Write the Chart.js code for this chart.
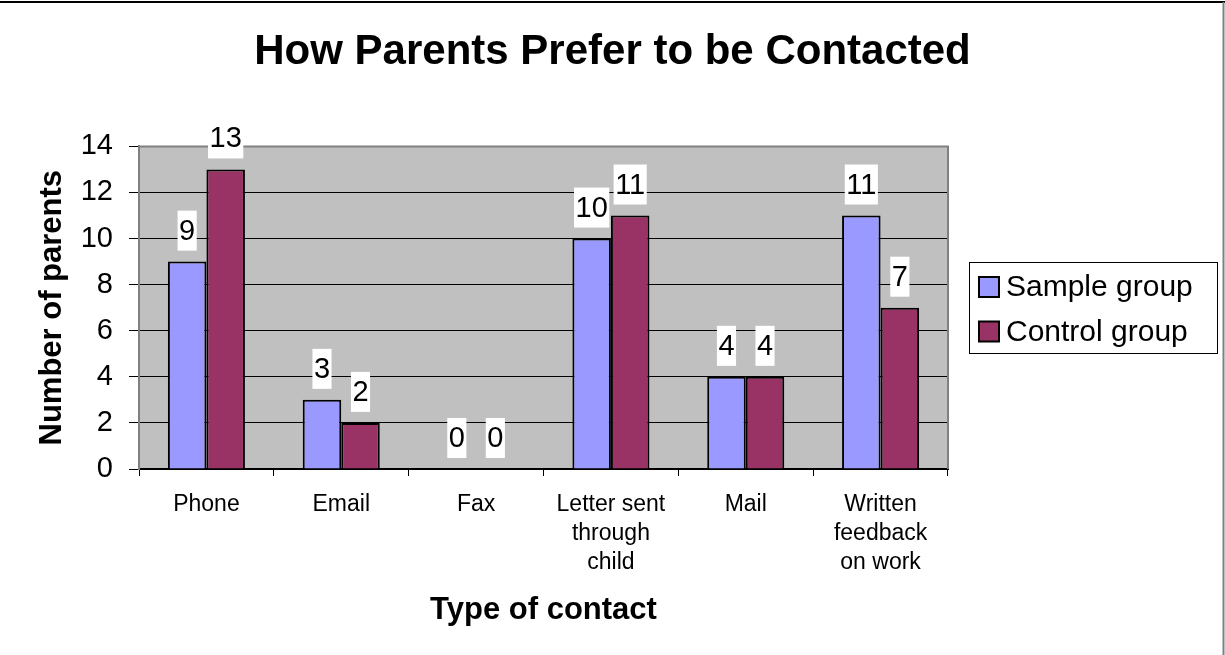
<!DOCTYPE html>
<html>
<head>
<meta charset="utf-8">
<title>How Parents Prefer to be Contacted</title>
<script src="https://cdn.jsdelivr.net/npm/chart.js@4.4.1/dist/chart.umd.min.js"></script>
<style>
  html, body { margin: 0; padding: 0; background: #fff; }
  canvas { display: block; }
</style>
</head>
<body>
<canvas id="contactChart" width="1225" height="655"></canvas>
<script>
// Survey results: preferred way of contact, per group
const contactTypes = ['Phone', 'Email', 'Fax', ['Letter sent', 'through', 'child'], 'Mail', ['Written', 'feedback', 'on work']];
const sampleGroup = [9, 3, 0, 10, 4, 11];
const controlGroup = [13, 2, 0, 11, 4, 7];
const yTicks = [0, 2, 4, 6, 8, 10, 12, 14];

const FONT = '"Liberation Sans", Arial, Helvetica, sans-serif';

// Grey plot area with its frame, plus the outer chart frame
const plotArea = {
    id: 'plotArea',
    beforeDraw(chart) {
        const { ctx, chartArea: a } = chart;
        ctx.save();
        ctx.fillStyle = '#c0c0c0';
        ctx.fillRect(a.left, a.top, a.right - a.left, a.bottom - a.top);
        ctx.restore();
    },
    beforeDatasetsDraw(chart) {
        const { ctx, chartArea: a } = chart;
        ctx.save();
        ctx.strokeStyle = '#808080';
        ctx.lineWidth = 2;
        ctx.beginPath();
        ctx.moveTo(a.left, a.top);
        ctx.lineTo(a.right, a.top);
        ctx.lineTo(a.right, a.bottom);
        ctx.stroke();
        ctx.restore();
    },
    afterDraw(chart) {
        const ctx = chart.ctx;
        ctx.save();
        ctx.strokeStyle = '#000';
        ctx.lineWidth = 2;
        ctx.beginPath();
        ctx.moveTo(0, 2);
        ctx.lineTo(chart.width, 2);
        ctx.stroke();
        ctx.strokeStyle = '#808080';
        ctx.beginPath();
        ctx.moveTo(chart.width - 1.5, 2);
        ctx.lineTo(chart.width - 1.5, chart.height);
        ctx.stroke();
        ctx.restore();
    }
};

// Value labels on white boxes above each bar
const barLabels = {
    id: 'barLabels',
    afterDatasetsDraw(chart) {
        const ctx = chart.ctx;
        ctx.save();
        ctx.font = '29px ' + FONT;
        ctx.textAlign = 'center';
        ctx.textBaseline = 'middle';
        chart.data.datasets.forEach((ds, i) => {
            chart.getDatasetMeta(i).data.forEach((bar, j) => {
                const text = String(ds.data[j]);
                const w = ctx.measureText(text).width + 3;
                const h = 40;
                const bottom = bar.y - 11;
                ctx.fillStyle = '#fff';
                ctx.fillRect(bar.x - w / 2, bottom - h, w, h);
                ctx.fillStyle = '#000';
                ctx.fillText(text, bar.x, bottom - h / 2 + 1);
            });
        });
        ctx.restore();
    }
};

// Framed legend to the right of the plot
const boxLegend = {
    id: 'boxLegend',
    afterDraw(chart) {
        const ctx = chart.ctx;
        ctx.save();
        ctx.lineWidth = 1;
        ctx.strokeStyle = '#000';
        ctx.strokeRect(969.5, 262.5, 248, 91);
        ctx.font = '30px ' + FONT;
        ctx.textBaseline = 'middle';
        chart.data.datasets.forEach((ds, i) => {
            const cy = 287 + i * 44.5;
            ctx.fillStyle = ds.backgroundColor;
            ctx.fillRect(979, cy - 10, 20, 20);
            ctx.lineWidth = 2;
            ctx.strokeRect(979, cy - 10, 20, 20);
            ctx.fillStyle = '#000';
            ctx.fillText(ds.label, 1006, cy + 1);
        });
        ctx.restore();
    }
};

new Chart(document.getElementById('contactChart'), {
    type: 'bar',
    data: {
        labels: contactTypes,
        datasets: [
            { label: 'Sample group', data: sampleGroup, backgroundColor: '#9999ff', borderColor: '#000', borderWidth: 2 },
            { label: 'Control group', data: controlGroup, backgroundColor: '#993366', borderColor: '#000', borderWidth: 2 }
        ]
    },
    options: {
        responsive: false,
        animation: false,
        // two bars side by side, gap of 1.5 bar widths between groups
        barPercentage: 1,
        categoryPercentage: 2 / 3.5,
        plugins: {
            legend: { display: false },
            tooltip: { enabled: false },
            title: {
                display: true,
                text: 'How Parents Prefer to be Contacted',
                color: '#000',
                font: { family: FONT, size: 42, weight: 'bold', lineHeight: 1.2 },
                padding: { top: 27, bottom: 69 }
            }
        },
        scales: {
            x: {
                grid: { offset: true, drawOnChartArea: false, drawTicks: true, tickLength: 7, color: '#000', lineWidth: 1 },
                border: { color: '#000', width: 2 },
                ticks: {
                    color: '#000',
                    font: { family: FONT, size: 23, lineHeight: 1.26 },
                    padding: 14,
                    maxRotation: 0,
                    autoSkip: false
                },
                title: {
                    display: true,
                    text: 'Type of contact',
                    color: '#000',
                    font: { family: FONT, size: 31, weight: 'bold', lineHeight: 1.2 },
                    padding: { top: 0, bottom: 26 }
                },
                afterFit(scale) { scale.height = 186; }
            },
            y: {
                min: yTicks[0],
                max: yTicks[yTicks.length - 1],
                afterBuildTicks(scale) { scale.ticks = yTicks.map(v => ({ value: v })); },
                grid: { color: '#000', lineWidth: 1, tickLength: 10 },
                border: { color: '#808080', width: 2 },
                ticks: { color: '#000', font: { family: FONT, size: 29 }, padding: 16 },
                title: {
                    display: true,
                    text: 'Number of parents',
                    color: '#000',
                    font: { family: FONT, size: 31, weight: 'bold', lineHeight: 1.2 },
                    padding: { top: 34, bottom: 0 }
                },
                afterFit(scale) { scale.width = 139; }
            },
            // empty right-hand column that holds the legend
            legendSpace: {
                type: 'linear',
                position: 'right',
                grid: { display: false },
                border: { display: false },
                ticks: { display: false },
                afterFit(scale) { scale.width = 1225 - 948; }
            }
        }
    },
    plugins: [plotArea, barLabels, boxLegend]
});
</script>
</body>
</html>
